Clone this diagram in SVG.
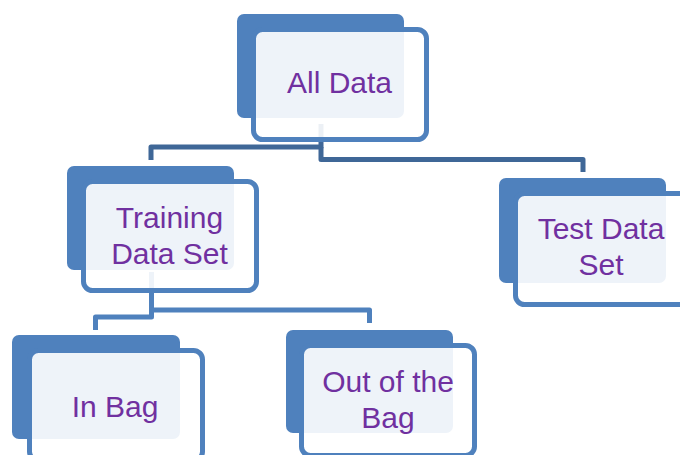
<svg xmlns="http://www.w3.org/2000/svg" width="680" height="455" viewBox="0 0 680 455">
<style>
.back{fill:#4F81BD;}
.front{fill:#FFFFFF;fill-opacity:0.9;stroke:#4F81BD;stroke-width:5;}
.lbl{font-family:"Liberation Sans",Arial,sans-serif;font-size:30px;fill:#7030A0;text-anchor:middle;}
.c1{fill:none;stroke:#3F6797;stroke-width:5;stroke-linejoin:round;}
.c2{fill:none;stroke:#4F81BD;stroke-width:5;stroke-linejoin:round;}
</style>
<rect width="680" height="455" fill="#FFFFFF"/>
<g id="connectors">
<path class="c1" d="M321 124 V147 H151 V160"/>
<path class="c1" d="M321 147 V159.5 H583 V172"/>
<path class="c2" d="M151.5 272 V317 H95.5 V330"/>
<path class="c2" d="M151.5 310 H369.5 V323"/>
</g>
<g id="node-all-data">
<rect class="back" x="237" y="14" width="167" height="104" rx="7"/>
<rect class="front" x="253.5" y="29.5" width="173" height="110" rx="9"/>
<text class="lbl" x="339.5" y="93">All Data</text>
</g>
<g id="node-training">
<rect class="back" x="67" y="166" width="167" height="104" rx="7"/>
<rect class="front" x="83.5" y="181.5" width="173" height="109" rx="9"/>
<text class="lbl" x="169.5" y="228">Training</text>
<text class="lbl" x="169.5" y="264">Data Set</text>
</g>
<g id="node-test">
<rect class="back" x="499" y="178" width="167" height="105" rx="7"/>
<rect class="front" x="515.5" y="193.5" width="173" height="111" rx="9"/>
<text class="lbl" x="601" y="239">Test Data</text>
<text class="lbl" x="601" y="275">Set</text>
</g>
<g id="node-in-bag">
<rect class="back" x="12" y="335" width="168" height="104" rx="7"/>
<rect class="front" x="29.5" y="350.5" width="173" height="110" rx="9"/>
<text class="lbl" x="115" y="417">In Bag</text>
</g>
<g id="node-out-of-bag">
<rect class="back" x="286" y="330" width="167" height="103" rx="7"/>
<rect class="front" x="301.5" y="345.5" width="173" height="110" rx="9"/>
<text class="lbl" x="388" y="392">Out of the</text>
<text class="lbl" x="388" y="428">Bag</text>
</g>
</svg>
